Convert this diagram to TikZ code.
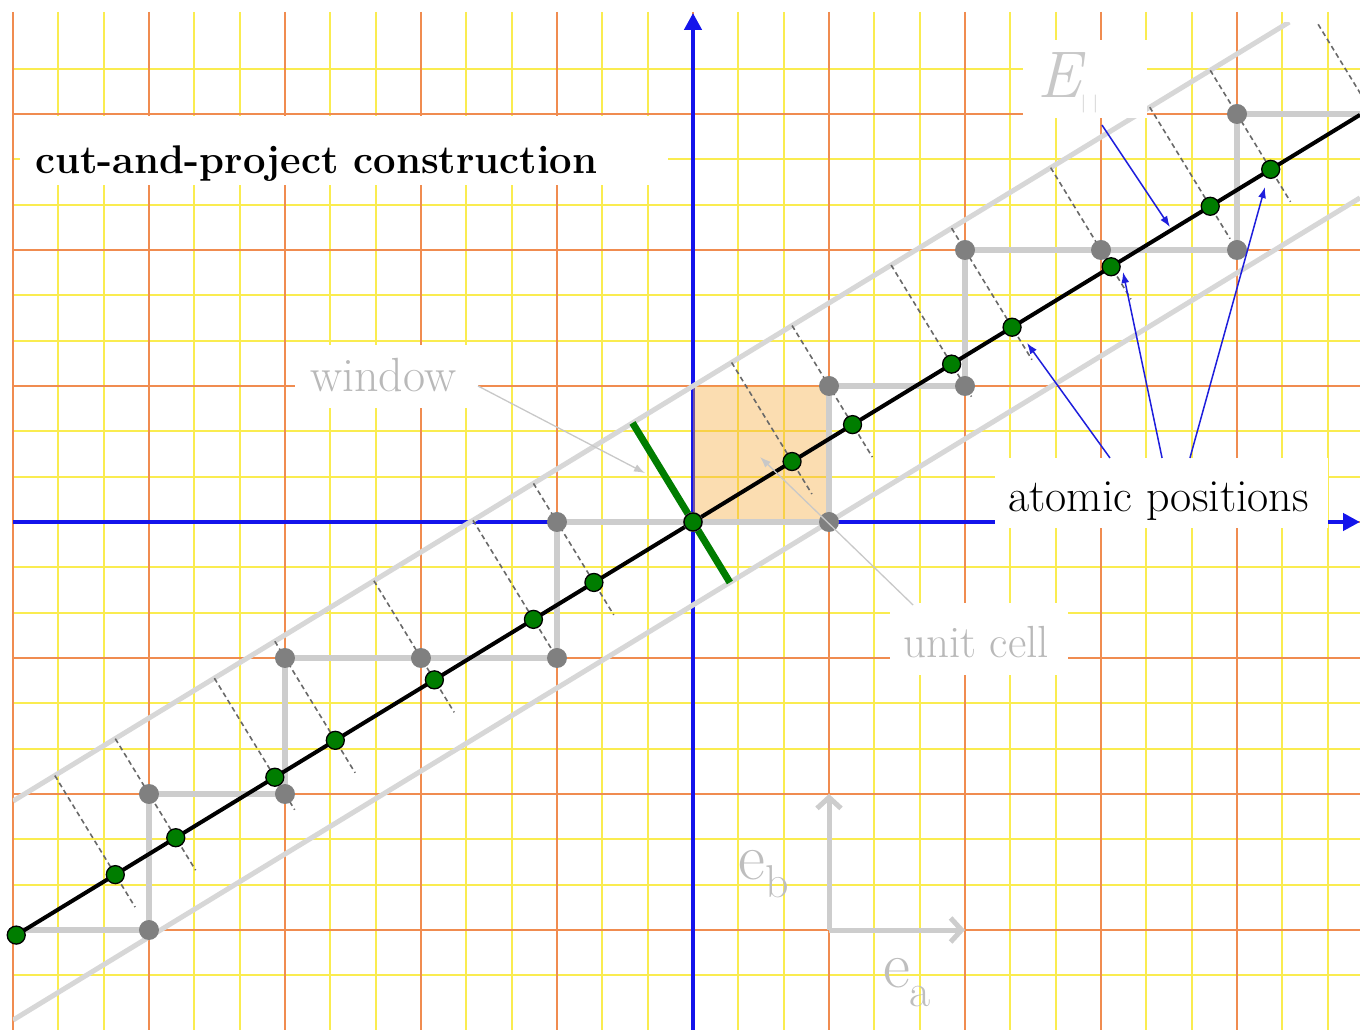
\documentclass[tikz,border=0pt]{standalone}
\usetikzlibrary{arrows.meta,calc}
\definecolor{gridyellow}{RGB}{250,236,80}
\definecolor{gridorange}{RGB}{240,140,80}
\definecolor{axisblue}{RGB}{20,20,235}
\definecolor{cellorange}{RGB}{245,170,60}
\definecolor{stairgray}{RGB}{205,205,205}
\definecolor{stripgray}{RGB}{215,215,215}
\definecolor{dashgray}{RGB}{105,105,105}
\definecolor{ptgray}{RGB}{128,128,128}
\definecolor{ptgreen}{RGB}{0,125,0}
\definecolor{labelgray}{RGB}{185,185,185}
\definecolor{vecgray}{RGB}{205,205,205}
\definecolor{pointerblue}{RGB}{30,30,220}
\begin{document}
\begin{tikzpicture}[x=136pt,y=136pt,
  gridy/.style={gridyellow,line width=2pt},
  grido/.style={gridorange,line width=2pt},
  axisline/.style={axisblue,line width=4.5pt,-{Triangle[length=17pt,width=17pt]}},
  stair/.style={stairgray,line width=6.5pt,line join=round},
  stripline/.style={stripgray,line width=5pt},
  dashln/.style={dashgray,line width=1.6pt,dash pattern=on 5pt off 3.5pt},
  chain/.style={black,line width=4pt},
  windowline/.style={ptgreen,line width=7pt},
  graypt/.style={circle,fill=ptgray,inner sep=0pt,minimum size=20pt},
  greenpt/.style={circle,fill=ptgreen,draw=black,line width=1.3pt,inner sep=0pt,minimum size=18pt},
  lgarrow/.style={draw={rgb,255:red,200;green,200;blue,200},line width=1.3pt,-{Latex[length=11pt,width=8pt]}},
  pointer/.style={pointerblue,line width=1.5pt,-{Latex[length=11pt,width=8pt]}},
  evec/.style={vecgray,line width=5pt,-{Straight Barb[length=11pt,width=24pt]}},
  txt/.style={anchor=base west,inner sep=0pt}
]
\useasboundingbox (-5.0956,-3.7353) rectangle (4.9044,3.8382);

\pgfmathsetmacro\aA{31.4}
\pgfmathsetmacro\cA{cos(\aA)}
\pgfmathsetmacro\sA{sin(\aA)}
\pgfmathsetmacro\tA{tan(\aA)}

% grid
\foreach \k in {-15,...,14} \draw[gridy] (\k/3,3.75) -- (\k/3,-3.7353);
\foreach \k in {-10,...,10} \draw[gridy] (-5.007,\k/3) -- (4.9044,\k/3);
\foreach \k in {-5,...,4} \draw[grido] (\k,3.75) -- (\k,-3.7353);
\foreach \k in {-3,...,3} \draw[grido] (-5.007,\k) -- (4.9044,\k);

% axes
\coordinate (axW) at (-5.0,0);
\coordinate (axE) at (4.9044,0);
\coordinate (axS) at (0,-3.7353);
\coordinate (axN) at (0,3.743);
\draw[axisline] (axW) -- (axE);
\draw[axisline] (axS) -- (axN);

% unit cell
\node[fill=cellorange,fill opacity=0.4,minimum size=136pt,inner sep=0pt,anchor=south west] (cell) at (0,0) {};

% lattice points and projections
\foreach \m/\n [count=\i] in {-5/-3,-4/-3,-4/-2,-3/-2,-3/-1,-2/-1,-1/-1,-1/0,0/0,1/0,1/1,2/1,2/2,3/2,4/2,4/3,5/3,5/4} {
  \pgfmathsetmacro\tp{\m*\cA+\n*\sA}
  \coordinate (L\i) at (\m,\n);
  \coordinate (G\i) at ({\tp*\cA},{\tp*\sA});
  \coordinate (DU\i) at ($(G\i)+({-\cA*\sA},{\cA*\cA})$);
  \coordinate (DL\i) at ($(G\i)+({0.28*\sA},{-0.28*\cA})$);
}

% staircase
\draw[stair] (L1) \foreach \i in {2,...,18} {-- (L\i)};

% strip, dashed projection lines, physical line
\coordinate (SU1) at (-5,{1-5*\tA});
\coordinate (SU2) at ({2.676/\tA},3.676);
\coordinate (SL1) at (-5,{-6*\tA});
\coordinate (SL2) at (4.9044,{3.9044*\tA});
\coordinate (BL1) at (-4.99,{-4.99*\tA});
\coordinate (BL2) at (4.9044,{4.9044*\tA});
\begin{scope}
  \clip (-5,-3.7353) rectangle (4.9044,3.676);
  \draw[stripline] (SU1) -- (SU2);
  \draw[stripline] (SL1) -- (SL2);
  \foreach \i in {2,...,18} \draw[dashln] (DU\i) -- (DL\i);
  \draw[chain] (BL1) -- (BL2);
\end{scope}

% window
\coordinate (W1) at ({-\cA*\sA},{\cA*\cA});
\coordinate (W2) at ({\sA*\sA},{-\sA*\cA});
\draw[windowline] (W1) -- (W2);

% points
\foreach \i in {2,...,18} \node[graypt] (P\i) at (L\i) {};
\foreach \i in {1,...,18} \node[greenpt] (Q\i) at (G\i) {};

% labels with white boxes
\fill[white] (-4.949,2.478) rectangle (-0.184,2.985);
\node[txt,font={\fontsize{40}{40}\selectfont\bfseries}] (title) at (-4.838,2.559) {cut-and-project construction};

\fill[white] (-2.926,0.838) rectangle (-1.581,1.301);
\node[txt,labelgray,font={\fontsize{48}{48}\selectfont}] (win) at (-2.816,0.956) {window};

\fill[white] (1.449,-1.125) rectangle (2.757,-0.596);
\node[txt,labelgray,font={\fontsize{45}{45}\selectfont}] (uc) at (1.544,-0.993) {unit cell};

\fill[white] (2.221,-0.044) rectangle (4.669,0.471);
\node[txt,font={\fontsize{46}{46}\selectfont}] (atoms) at (2.316,0.0735) {atomic positions};

\fill[white] (2.426,2.971) rectangle (3.338,3.544);
\node[txt,text={rgb,255:red,200;green,200;blue,200}] (epar) at (2.529,3.118)
  {\fontsize{66}{66}\selectfont\itshape E\raisebox{-10.5pt}{\fontsize{18}{18}\selectfont\upshape |\kern7pt|}};

% pointer arrows
\coordinate (winS) at (-1.581,1.0);
\coordinate (winT) at (-0.353,0.360);
\draw[lgarrow] (winS) -- (winT);
\coordinate (ucS) at (1.618,-0.610);
\coordinate (ucT) at (0.493,0.478);
\draw[lgarrow] (ucS) -- (ucT);

\coordinate (eS) at (3.007,2.919);
\coordinate (eT) at (3.507,2.169);
\draw[pointer] (eS) -- (eT);
\coordinate (aS1) at (3.066,0.471);
\coordinate (aT1) at (2.456,1.316);
\coordinate (aS2) at (3.449,0.471);
\coordinate (aT2) at (3.162,1.838);
\coordinate (aS3) at (3.654,0.471);
\coordinate (aT3) at (4.206,2.463);
\draw[pointer] (aS1) -- (aT1);
\draw[pointer] (aS2) -- (aT2);
\draw[pointer] (aS3) -- (aT3);

% basis vectors
\coordinate (eo) at (1,-3);
\coordinate (ea) at (2,-3);
\coordinate (eb) at (1,-2);
\draw[evec] (eo) -- (ea);
\draw[evec] (eo) -- (eb);
\node[txt,text={rgb,255:red,190;green,190;blue,190}] (eblab) at (0.331,-2.632)
  {\fontsize{66}{66}\selectfont e\raisebox{-18pt}{\fontsize{46}{46}\selectfont b}};
\node[txt,text={rgb,255:red,190;green,190;blue,190}] (ealab) at (1.397,-3.426)
  {\fontsize{66}{66}\selectfont e\raisebox{-19pt}{\fontsize{46}{46}\selectfont a}};
\end{tikzpicture}
\end{document}
